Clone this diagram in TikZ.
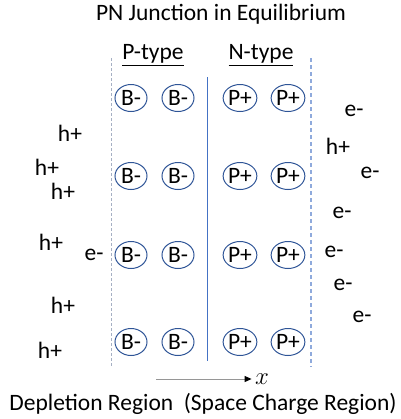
\documentclass[tikz,border=0pt]{standalone}
\usepackage{fontspec}
\setmainfont{Carlito}
\usetikzlibrary{shapes.geometric,arrows.meta}
\definecolor{ionblue}{RGB}{47,85,151}
\definecolor{junctionblue}{RGB}{68,114,196}
\definecolor{edgeblue}{RGB}{143,170,220}
\definecolor{edgegrey}{RGB}{165,175,195}
\definecolor{axisgrey}{RGB}{150,150,150}
\tikzset{
  ion/.style={ellipse,draw=ionblue,line width=1bp,minimum width=32bp,minimum height=27bp,inner sep=0pt},
  carrier/.style={inner sep=0pt}
}
\begin{document}
\begin{tikzpicture}[x=1bp,y=-1bp,font=\fontsize{23.5bp}{28bp}\selectfont]
\useasboundingbox (0,0) rectangle (401,419);
\node (title) at (221,14) {PN Junction in Equilibrium};
\node (ptype) at (153,55) {\underline{P-type}};
\node (ntype) at (261,55) {\underline{N-type}};
% region edges and the junction
\draw[edgegrey,line width=0.75bp,dash pattern=on 3bp off 2bp] (111,58) -- (111,367);
\draw[edgeblue,line width=1.5bp,dash pattern=on 4bp off 3bp] (311,58) -- (311,367);
\draw[junctionblue,line width=1bp] (207,77) -- (207,361);
% fixed ions
\foreach \r/\y in {1/98,2/176,3/255,4/342} {
  \node[ion] (b1\r) at (131,\y) {B-};
  \node[ion] (b2\r) at (178,\y) {B-};
  \node[ion] (p1\r) at (240,\y) {P+};
  \node[ion] (p2\r) at (288,\y) {P+};
}
% free carriers, p side
\node[carrier] (hA) at (70,133) {h+};
\node[carrier] (hB) at (47,167) {h+};
\node[carrier] (hC) at (63,191) {h+};
\node[carrier] (hD) at (51,242) {h+};
\node[carrier] (eA) at (94,255) {e-};
\node[carrier] (hE) at (63,305) {h+};
\node[carrier] (hF) at (50,350) {h+};
% free carriers, n side
\node[carrier] (eB) at (354,111) {e-};
\node[carrier] (hG) at (338,146) {h+};
\node[carrier] (eC) at (370,173) {e-};
\node[carrier] (eD) at (342,213) {e-};
\node[carrier] (eE) at (334,252) {e-};
\node[carrier] (eF) at (343,285) {e-};
\node[carrier] (eG) at (362,317) {e-};
% axis
\coordinate (xstart) at (156,379);
\node (xlab) at (262,379) {$x$};
\draw[axisgrey,line width=1bp,-{Triangle[length=7bp,width=6bp,black]}] (xstart) -- (xlab.west);
\node (caption) at (203,404) {Depletion Region\ \ (Space Charge Region)};
\end{tikzpicture}
\end{document}
